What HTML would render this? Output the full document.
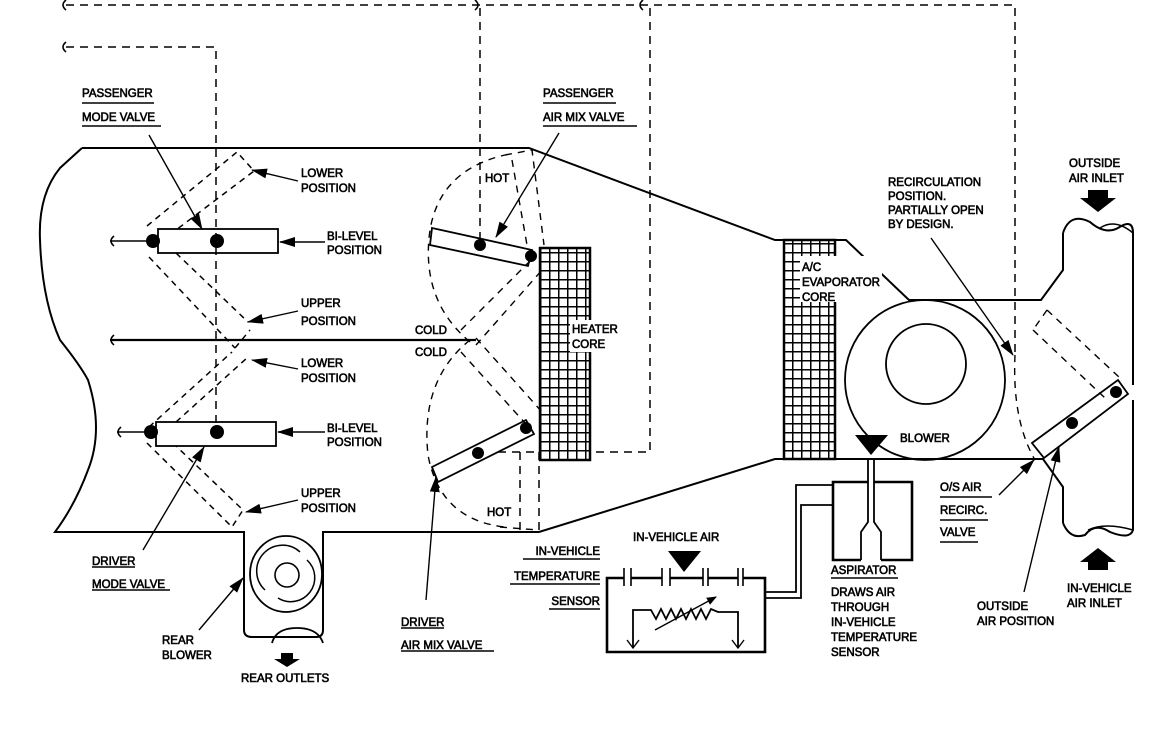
<!DOCTYPE html>
<html><head><meta charset="utf-8"><style>
html,body{margin:0;padding:0;background:#fff;}
svg{display:block;}
text{font-family:"Liberation Sans",sans-serif;font-size:11.5px;fill:#000;stroke:#000;stroke-width:0.6;}
</style></head><body>
<svg width="1152" height="747" viewBox="0 0 1152 747" xmlns="http://www.w3.org/2000/svg">
<defs>
<pattern id="grid" width="9" height="9" patternUnits="userSpaceOnUse">
<rect width="9" height="9" fill="#fff"/>
<path d="M0 0H9M0 0V9" stroke="#000" stroke-width="3"/>
</pattern>
<marker id="ar" markerWidth="10" markerHeight="8" refX="9" refY="4" orient="auto" markerUnits="userSpaceOnUse"><path d="M0 0L10 4L0 8z" fill="#000"/></marker>
<marker id="arL" markerWidth="16" markerHeight="10" refX="15" refY="5" orient="auto" markerUnits="userSpaceOnUse"><path d="M0 0L16 5L0 10z" fill="#000"/></marker>
</defs>
<g fill="none" stroke="#000" stroke-width="1.6">
<g stroke-dasharray="8,6" stroke-width="1.5">
<path d="M66 5H1015V355"/>
<path d="M66 47H216V430"/>
<path d="M480 8V245"/>
<path d="M650 8V452H493"/>
<path d="M520 452V530M539 452V530"/>
</g>
<path d="M66 0q-6 5 0 10M475 0q6 5 0 10M643 0q-6 5 0 10M66 42q-6 5 0 10"/>
<path d="M82 148H529L775 240H846L909 300H1041L1063 270V233" stroke-width="2"/>
<path d="M82 148L60 168Q38 195 40 240Q42 300 60 340Q80 365 88 380Q104 430 88 470Q75 505 55 532H244V630Q244 637 252 637H316Q323 637 323 630V532H539L775 459H1043L1063 487V523" stroke-width="2"/>
<path d="M1063 233Q1070 212 1090 222Q1105 235 1118 228Q1133 218 1133 233V385M1133 400V530Q1130 540 1110 532Q1095 522 1085 535Q1070 540 1063 523" stroke-width="2"/>
<path d="M1100 228Q1115 218 1133 233" stroke-width="1.5"/>
<path d="M1088 530Q1105 522 1133 530" stroke-width="1.5"/>
<rect x="540" y="248" width="50" height="212" fill="url(#grid)" stroke-width="2.5"/>
<rect x="784" y="240" width="51" height="219" fill="url(#grid)" stroke-width="2.5"/>
<rect x="570" y="320" width="48" height="32" fill="#fff" stroke="none"/>
<rect x="800" y="256" width="82" height="46" fill="#fff" stroke="none"/>
<circle cx="925" cy="380" r="80" stroke-width="1.8"/>
<circle cx="926" cy="364" r="40" stroke-width="1.8"/>
<rect x="158" y="229" width="120" height="24" stroke-width="1.8"/>
<path d="M110 241H153"/>
<path d="M114 236q-6 5 0 10"/>
<g stroke-dasharray="6,5" stroke-width="1.5">
<path d="M147 226L237 152L254 171L176 230"/>
<path d="M149 257L235 348M176 253L248 322"/>
<path d="M235 348L250 330"/>
<path d="M149 427L232 352M176 422L248 357"/>
<path d="M147 443L232 527L243 510L176 446"/>
</g>
<rect x="156" y="422" width="120" height="24" stroke-width="1.8"/>
<path d="M117 432H151"/>
<path d="M121 427q-6 5 0 10"/>
<path d="M110 340H476" stroke-width="2.2"/>
<path d="M114 335q-6 5 0 10"/>
<g stroke-dasharray="7,6" stroke-width="1.4">
<path d="M470 342Q420 300 430 230Q440 170 505 155"/>
<path d="M470 340Q420 380 428 455Q440 520 505 527"/>
<path d="M461 330L533 258M476 345L542 270"/>
<path d="M461 352L525 423M476 338L542 412"/>
<path d="M505 155L532 150L544 245M512 160L527 245"/>
<path d="M500 527L538 530"/>
</g>
<path d="M432 228L532 250L528 266L430 245Z" stroke-width="1.8"/>
<path d="M432 467L526 420L534 434L438 482Z" stroke-width="1.8"/>
<g stroke-dasharray="7,6" stroke-width="1.4">
<path d="M1015 355Q1012 420 1035 460"/>
<path d="M1047 310L1120 378M1033 330L1105 398M1047 310L1033 330"/>
</g>
<path d="M1032 443L1118 380L1128 394L1044 458Z" stroke-width="1.8"/>
<ellipse cx="286" cy="574" rx="36" ry="38" stroke-width="1.8"/>
<circle cx="287" cy="575" r="12" stroke-width="1.6"/>
<path d="M265 590A24 24 0 0 1 300 552" stroke-width="1.5"/>
<path d="M307 560A24 24 0 0 1 278 598" stroke-width="1.5"/>
<path d="M272 643Q276 628 297 628Q318 628 323 643" stroke-width="1.8"/>
<path d="M868 459V522L861 532V560M874 459V522L881 532V560" stroke-width="1.8"/>
<path d="M868 482H833V560H861M874 482H912V560H881" stroke-width="2.6"/>
<path d="M833 485H796V592H765M833 505H801V598H765" stroke-width="1.8"/>
<path d="M624 578H607V652H765V578H743M738 578H708M703 578H670M662 578H631" stroke-width="2.6"/>
<path d="M624 568V586M631 568V586M662 568V586M670 568V586M703 568V586M708 568V586M738 568V586M743 568V586" stroke-width="1.6"/>
<path d="M633 648V610H651L656 619L661 609L666 619L671 609L676 619L681 609L686 619L691 609L696 619L701 609L706 619L711 609L718 612H738V648" stroke-width="1.8"/>
<path d="M627 640L633 648L639 640M732 640L738 648L744 640" stroke-width="1.4"/>
<path d="M655 630L716 597" stroke-width="1.4" marker-end="url(#ar)"/>
<g stroke-width="1.4">
<path d="M298 181L252 170" marker-end="url(#arL)"/>
<path d="M325 242L280 242" marker-end="url(#arL)"/>
<path d="M298 311L248 322" marker-end="url(#arL)"/>
<path d="M298 369L252 360" marker-end="url(#arL)"/>
<path d="M325 432L278 432" marker-end="url(#arL)"/>
<path d="M298 500L246 512" marker-end="url(#arL)"/>
<path d="M149 135L202 229" marker-end="url(#arL)"/>
<path d="M143 550L204 447" marker-end="url(#arL)"/>
<path d="M199 630L243 578" marker-end="url(#arL)"/>
<path d="M559 133L496 237" marker-end="url(#arL)"/>
<path d="M426 600L436 477" marker-end="url(#arL)"/>
<path d="M931 238L1013 355" marker-end="url(#arL)"/>
<path d="M999 495L1034 460" marker-end="url(#arL)"/>
<path d="M1024 592L1059 447" marker-end="url(#arL)"/>
</g>
<g stroke-width="1.5">
<path d="M82 103H154M82 126H161M543 103H616M543 126H637M92 567H135M92 590H170M401 628H444M401 651H494M831 578H898M940 497H992M940 520H988M940 542H978M523 559H600M510 584H600M549 609H600"/>
</g>
</g>
<g fill="#000" stroke="none">
<circle cx="153" cy="241" r="7"/><circle cx="217" cy="241" r="7"/>
<circle cx="151" cy="432" r="7"/><circle cx="217" cy="432" r="7"/>
<circle cx="480" cy="245" r="6"/><circle cx="531" cy="256" r="6"/>
<circle cx="478" cy="453" r="6"/><circle cx="526" cy="428" r="6"/>
<circle cx="1116" cy="392" r="6"/><circle cx="1072" cy="423" r="6"/>
<path d="M855 435H888L871 455Z"/>
<path d="M668 551H701L684 572Z"/>
<path d="M1088 190H1108V198H1116L1098 212L1080 198H1088Z"/>
<path d="M1098 548L1116 562H1108V570H1088V562H1080Z"/>
<path d="M281 653H293V659H300L287 667L274 659H281Z"/>
</g>
<text x="82" y="97">PASSENGER</text>
<text x="82" y="121">MODE VALVE</text>
<text x="543" y="97">PASSENGER</text>
<text x="543" y="121">AIR MIX VALVE</text>
<text x="301" y="177">LOWER</text><text x="301" y="192">POSITION</text>
<text x="327" y="240">BI-LEVEL</text><text x="327" y="254">POSITION</text>
<text x="301" y="307">UPPER</text><text x="301" y="325">POSITION</text>
<text x="301" y="367">LOWER</text><text x="301" y="382">POSITION</text>
<text x="327" y="432">BI-LEVEL</text><text x="327" y="446">POSITION</text>
<text x="301" y="497">UPPER</text><text x="301" y="512">POSITION</text>
<text x="415" y="334">COLD</text><text x="415" y="356">COLD</text>
<text x="485" y="182">HOT</text><text x="487" y="516">HOT</text>
<text x="572" y="333">HEATER</text><text x="572" y="348">CORE</text>
<text x="802" y="271">A/C</text><text x="802" y="286">EVAPORATOR</text><text x="802" y="301">CORE</text>
<text x="888" y="186">RECIRCULATION</text><text x="888" y="200">POSITION.</text><text x="888" y="214">PARTIALLY OPEN</text><text x="888" y="228">BY DESIGN.</text>
<text x="1069" y="167">OUTSIDE</text><text x="1069" y="182">AIR INLET</text>
<text x="900" y="442">BLOWER</text>
<text x="940" y="491">O/S AIR</text><text x="940" y="514">RECIRC.</text><text x="940" y="536">VALVE</text>
<text x="977" y="610">OUTSIDE</text><text x="977" y="625">AIR POSITION</text>
<text x="1067" y="592">IN-VEHICLE</text><text x="1067" y="607">AIR INLET</text>
<text x="831" y="574">ASPIRATOR</text>
<text x="831" y="596">DRAWS AIR</text><text x="831" y="611">THROUGH</text><text x="831" y="626">IN-VEHICLE</text><text x="831" y="641">TEMPERATURE</text><text x="831" y="656">SENSOR</text>
<text x="633" y="541">IN-VEHICLE AIR</text>
<text x="600" y="555" text-anchor="end">IN-VEHICLE</text>
<text x="600" y="580" text-anchor="end">TEMPERATURE</text>
<text x="600" y="605" text-anchor="end">SENSOR</text>
<text x="92" y="565">DRIVER</text><text x="92" y="588">MODE VALVE</text>
<text x="162" y="644">REAR</text><text x="162" y="659">BLOWER</text>
<text x="241" y="682">REAR OUTLETS</text>
<text x="401" y="626">DRIVER</text><text x="401" y="649">AIR MIX VALVE</text>
</svg>
</body></html>
